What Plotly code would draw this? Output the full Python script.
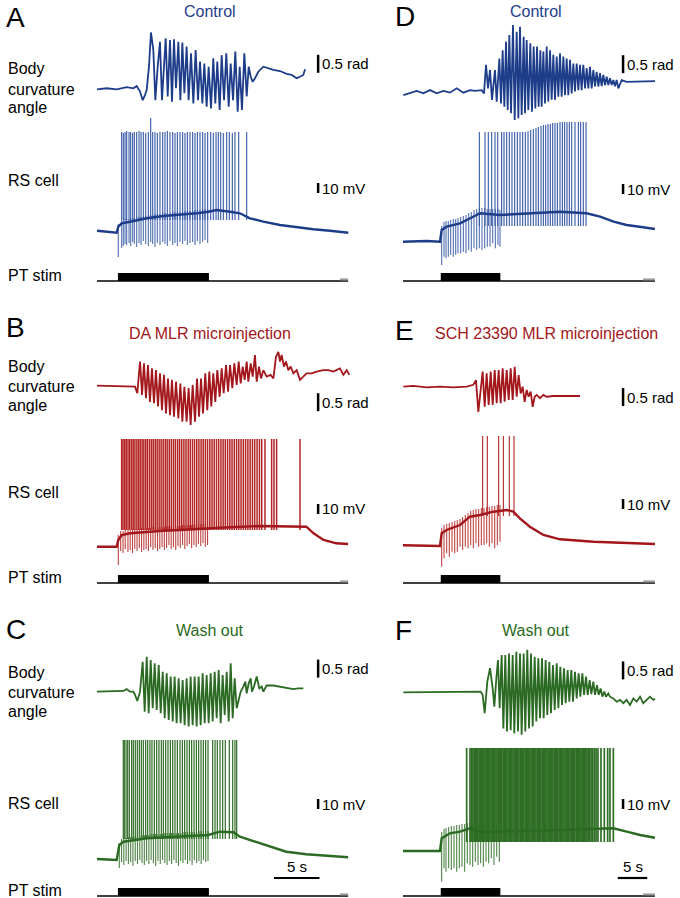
import plotly.graph_objects as go

# ================= DATA =================
# time in s from start of sweep, body curvature in rad, RS membrane potential in mV (relative to rest)

A_body = [(0.0,-0.01),(1.06,0.02),(2.16,-0.01),(3.26,0.05),(3.99,0.02),(4.36,0.08),(4.73,-0.07),(5.02,-0.31),(5.27,-0.17),(5.46,-0.03),
          (5.71,0.62),(5.93,1.57),(6.19,1.08),(6.41,-0.31),(6.67,0.62),(6.92,1.31),(7.14,-0.31),(7.33,0.62),(7.55,1.41),(7.77,-0.21),
          (8.02,1.36),(8.24,-0.35),(8.46,1.38),(8.68,0.02),(8.94,1.31),(9.16,-0.31),(9.38,1.29),(9.60,-0.12),(9.85,1.18),(10.07,-0.31),
          (10.33,0.99),(10.59,-0.40),(10.84,1.08),(11.10,-0.31),(11.32,0.76),(11.58,-0.40),(11.79,0.71),(12.05,-0.49),(12.27,0.62),(12.53,-0.54),
          (12.78,0.85),(13.00,-0.40),(13.22,0.76),(13.48,-0.58),(13.70,0.94),(13.96,-0.31),(14.21,0.99),(14.47,-0.49),(14.69,0.71),(14.95,-0.31),
          (15.20,1.04),(15.46,-0.63),(15.68,0.62),(15.93,-0.58),(16.19,0.99),(16.45,-0.21),(16.67,0.62),(16.89,0.34),(17.11,0.20),(17.36,0.30),
          (17.73,0.48),(18.28,0.62),(18.83,0.57),(19.38,0.53),(20.11,0.50),(20.84,0.42),(21.39,0.39),(21.94,0.30),(22.31,0.34),(22.67,0.39),(22.86,0.55)]

B_body = [(0.0,0.01),(4.18,-0.02),(4.43,-0.20),(4.73,0.68),(4.95,-0.25),(5.16,0.63),(5.38,-0.34),(5.60,0.58),(5.82,-0.44),(6.04,0.49),
          (6.26,-0.48),(6.48,0.44),(6.70,-0.57),(6.92,0.35),(7.14,-0.67),(7.36,0.31),(7.58,-0.76),(7.80,0.21),(8.02,-0.81),(8.24,0.17),
          (8.46,-0.85),(8.68,0.12),(8.94,-0.90),(9.16,0.07),(9.38,-0.99),(9.60,-0.02),(9.85,-0.99),(10.07,-0.06),(10.29,-1.08),(10.51,0.03),
          (10.77,-0.99),(10.99,0.21),(11.21,-0.85),(11.43,0.21),(11.65,-0.76),(11.90,0.35),(12.12,-0.67),(12.34,0.40),(12.56,-0.57),(12.78,0.35),
          (13.00,-0.44),(13.22,0.44),(13.48,-0.30),(13.70,0.49),(13.92,-0.20),(14.18,0.58),(14.40,-0.16),(14.62,0.58),(14.87,-0.06),(15.09,0.63),
          (15.35,0.03),(15.57,0.68),(15.79,0.07),(16.01,0.54),(16.23,0.17),(16.45,0.68),(16.63,0.12),(16.89,0.63),(17.11,0.26),(17.36,0.86),
          (17.55,0.12),(17.80,0.54),(18.02,0.21),(18.28,0.44),(18.64,0.26),(19.08,0.31),(19.38,0.21),(19.67,0.81),(19.93,0.95),(20.11,0.68),
          (20.29,0.86),(20.55,0.54),(20.77,0.68),(21.03,0.44),(21.28,0.54),(21.58,0.35),(21.94,0.44),(22.31,0.17),(22.67,0.26),(23.04,0.35),
          (23.59,0.35),(24.14,0.40),(24.87,0.44),(25.42,0.44),(25.97,0.40),(26.70,0.49),(27.07,0.31),(27.44,0.44),(27.73,0.31)]

C_body = [(0.0,0.01),(1.79,0.01),(2.89,0.03),(3.26,0.08),(3.63,0.01),(3.99,0.01),(4.18,-0.08),(4.43,-0.25),(4.73,0.01),(5.02,0.84),
          (5.24,-0.55),(5.46,0.98),(5.68,-0.59),(5.90,0.89),(6.12,-0.45),(6.34,0.80),(6.56,-0.50),(6.78,0.75),(7.00,-0.59),(7.22,0.56),
          (7.44,-0.73),(7.66,0.52),(7.88,-0.78),(8.10,0.43),(8.32,-0.82),(8.53,0.43),(8.75,-0.87),(8.97,0.38),(9.19,-0.87),(9.41,0.33),
          (9.63,-0.92),(9.85,0.38),(10.07,-0.96),(10.29,0.43),(10.51,-0.92),(10.73,0.43),(10.95,-0.96),(11.17,0.43),(11.39,-0.92),(11.61,0.52),
          (11.83,-0.87),(12.05,0.47),(12.27,-0.87),(12.49,0.52),(12.71,-0.82),(12.93,0.56),(13.15,-0.73),(13.37,0.61),(13.59,-0.87),(13.81,0.47),
          (14.03,-0.64),(14.25,0.56),(14.47,-0.82),(14.69,0.80),(14.91,-0.73),(15.13,0.38),(15.35,-0.45),(15.57,-0.22),(15.79,0.01),(16.08,0.15),
          (16.30,0.29),(16.45,-0.04),(16.67,0.24),(16.89,0.38),(17.03,0.01),(17.25,0.15),(17.55,0.43),(17.84,0.10),(18.10,0.15),(18.28,0.01),
          (18.64,0.18),(19.38,0.18),(20.11,0.15),(20.84,0.12),(21.58,0.08),(22.12,0.10),(22.67,0.10)]

D_body = [(0.06,-0.06),(1.19,-0.01),(2.32,0.06),(3.45,-0.01),(4.58,0.08),(5.71,-0.01),(6.84,0.06),(7.97,0.01),(9.10,0.13),(10.23,0.01),
          (11.36,0.08),(12.20,0.06),(13.33,0.08),(13.73,-0.01),(14.07,0.78),(14.41,0.13),(14.75,0.64),(15.08,-0.19),(15.59,0.64),(15.88,-0.24),
          (16.33,0.96),(16.61,-0.29),(16.89,1.19),(17.18,-0.38),(17.46,1.43),(17.74,-0.47),(18.02,1.61),(18.31,-0.56),(18.64,1.89),(18.93,-0.75),
          (19.27,1.70),(19.55,-0.70),(19.83,1.84),(20.11,-0.61),(20.45,1.56),(20.68,-0.56),(20.96,1.47),(21.24,-0.47),(21.58,1.38),(21.86,-0.52),
          (22.15,1.29),(22.43,-0.43),(22.71,1.29),(22.99,-0.38),(23.28,1.19),(23.50,-0.38),(23.79,1.15),(24.07,-0.29),(24.35,1.29),(24.63,-0.24),
          (24.92,1.19),(25.20,-0.19),(25.48,1.06),(25.76,-0.19),(26.05,1.01),(26.33,-0.10),(26.61,1.10),(26.89,-0.10),(27.18,1.01),(27.46,-0.06),
          (27.74,0.96),(28.02,-0.06),(28.31,0.92),(28.59,-0.01),(28.87,0.82),(29.15,0.04),(29.44,0.82),(29.72,0.08),(30.00,0.78),(30.28,0.08),
          (30.56,0.78),(30.85,0.13),(31.13,0.69),(31.41,0.13),(31.69,0.73),(31.98,0.13),(32.26,0.64),(32.54,0.18),(32.82,0.59),(33.11,0.18),
          (33.39,0.55),(33.67,0.19),(33.95,0.50),(34.24,0.22),(34.52,0.45),(34.80,0.22),(35.08,0.41),(35.37,0.22),(35.65,0.36),(35.93,0.19),
          (36.21,0.36),(36.50,0.13),(37.06,0.36),(37.91,0.31),(39.04,0.31),(40.73,0.31),(42.71,0.33)]

E_body = [(0.06,0.01),(1.75,0.03),(4.01,-0.01),(6.27,0.01),(8.53,-0.01),(10.79,0.01),(11.92,0.06),(12.37,0.19),(12.77,-0.69),(13.16,-0.08),
          (13.50,0.43),(13.84,-0.55),(14.18,0.38),(14.52,-0.50),(14.86,0.43),(15.20,-0.50),(15.54,0.47),(15.88,-0.45),(16.21,0.47),(16.55,-0.45),
          (16.89,0.52),(17.23,-0.41),(17.57,0.47),(17.91,-0.36),(18.25,0.52),(18.59,-0.36),(18.93,0.56),(19.27,-0.27),(19.60,0.33),(19.94,-0.18),
          (20.28,0.01),(20.62,-0.41),(20.96,-0.08),(21.30,-0.27),(21.64,-0.13),(21.98,-0.55),(22.32,-0.27),(22.66,-0.22),(23.22,-0.31),(23.79,-0.22),
          (24.35,-0.27),(25.48,-0.25),(26.61,-0.25),(27.74,-0.23),(28.87,-0.25),(30.00,-0.25)]

F_body = [(0.06,-0.01),(4.01,-0.01),(6.84,0.01),(9.66,-0.01),(11.92,0.01),(13.16,0.01),(13.50,-0.08),(13.84,-0.59),(14.29,0.29),(14.75,0.66),
          (15.20,0.10),(15.48,-0.41),(15.82,0.38),(16.10,0.89),(16.38,-0.45),(16.72,1.03),(17.01,-1.01),(17.34,1.03),(17.63,-1.10),(17.97,1.07),
          (18.25,-1.06),(18.59,1.03),(18.87,-1.15),(19.21,1.12),(19.49,-1.10),(19.83,1.07),(20.11,-1.19),(20.45,1.07),(20.73,-1.10),(21.07,1.17),
          (21.36,-1.01),(21.69,1.07),(21.98,-0.96),(22.32,0.98),(22.60,-0.82),(22.94,0.94),(23.22,-0.73),(23.56,0.94),(23.84,-0.73),(24.18,0.89),
          (24.46,-0.64),(24.80,0.84),(25.08,-0.59),(25.42,0.75),(25.71,-0.50),(26.05,0.80),(26.33,-0.45),(26.67,0.70),(26.95,-0.36),(27.29,0.66),
          (27.57,-0.31),(27.91,0.61),(28.19,-0.27),(28.53,0.61),(28.81,-0.27),(29.15,0.56),(29.44,-0.18),(29.77,0.52),(30.06,-0.13),(30.40,0.52),
          (30.68,-0.08),(31.02,0.43),(31.30,-0.08),(31.64,0.33),(31.92,-0.06),(32.26,0.29),(32.54,-0.08),(32.88,0.19),(33.16,-0.08),(33.50,0.10),
          (33.79,-0.13),(34.12,0.01),(34.41,-0.13),(34.80,-0.04),(35.08,-0.13),(35.65,-0.18),(36.21,-0.27),(36.78,-0.22),(37.34,-0.31),(37.91,-0.22),
          (38.47,-0.36),(39.04,-0.18),(39.60,-0.27),(40.17,-0.13),(40.73,-0.31),(41.30,-0.22),(41.86,-0.13),(42.43,-0.22),(42.71,-0.19)]

# RS cell: slow membrane potential envelope
A_env = [(0.0,1.3),(1.06,0.3),(2.16,-0.7),(2.34,5.3),(2.71,8.7),(3.63,10.3),(5.46,13.7),(7.29,16.0),(9.12,17.0),(10.95,18.7),(12.23,20.3),
         (13.15,22.0),(14.62,20.3),(15.71,18.7),(16.81,13.7),(18.28,10.3),(20.11,7.0),(21.94,4.7),(23.77,2.7),(25.60,1.3),(27.62,-0.7)]
B_env = [(0.0,0.3),(2.16,0.3),(2.34,7),(2.71,12),(3.63,13.7),(5.46,15.3),(7.29,16.3),(9.12,17),(12.05,18.7),(14.6,19.7),(17.9,21),
         (20.1,21),(22.3,21),(23.0,20.3),(23.8,13.7),(24.9,7),(26.3,3.7),(27.6,3)]
C_env = [(0.0,0),(2.16,-1),(2.45,14),(2.9,17.3),(5.46,20.7),(9.12,22.3),(12.23,24),(13.5,27.3),(15.0,26.7),(15.7,22.3),(17.2,18),
         (18.6,14),(20.8,7.3),(23.0,4.7),(25.2,3),(27.6,1.7)]
D_env = [(0.0,0.3),(3.95,1),(6.27,0.3),(6.55,12),(7.4,15.3),(9.66,18.7),(11.9,25.3),(13.05,28.7),(16.4,27),(21.0,28.7),(26.6,30.3),
         (31.1,28.7),(33.4,25.3),(35.7,20.3),(37.9,17),(40.7,14.7),(42.7,13)]
E_env = [(0.0,0.7),(3.95,0),(6.27,0),(6.55,12.7),(7.4,16),(9.66,21),(11.36,29.3),(13.05,31),(15.3,34.3),(17.6,36),(18.7,34.3),
         (19.8,27.7),(21.5,19.3),(23.8,11),(26.6,6.7),(32.3,4.3),(37.9,2.7),(42.7,2)]
F_env = [(0.0,0),(3.95,0.3),(6.27,0),(6.55,12.7),(7.97,17.7),(9.66,19.3),(11.36,22.7),(13.05,19.3),(16.44,19.3),(21.0,20),(26.6,21),
         (32.26,22),(35.65,22.7),(37.91,19.3),(40.17,16),(42.7,13.3)]

# RS cell action potentials: (time, peak)  or times with a single peak value
A_spikes = [(2.71,100),(2.89,99),(3.08,100),(3.26,101),(3.52,100),(3.70,100),(3.92,99),(4.10,100),(4.36,100),(4.62,101),
            (4.84,100),(5.09,100),(5.35,99),(5.64,100),(5.90,114),(6.12,100),(6.37,100),(6.63,99),(6.92,100),(7.22,100),
            (7.47,100),(7.73,101),(8.02,100),(8.32,100),(8.57,99),(8.83,100),(9.12,100),(9.41,100),(9.67,99),(9.93,100),
            (10.22,100),(10.51,100),(10.77,99),(11.03,100),(11.32,100),(11.61,100),(11.87,99),(12.16,100),(12.49,100),(12.78,99),
            (13.08,100),(13.33,100),(13.59,100),(13.88,99),(14.25,100),(14.54,100),(14.87,99),(15.16,100),(15.57,100),(16.45,100)]
B_spike_t = [2.71,2.86,3.05,3.22,3.41,3.60,3.80,3.98,4.17,4.38,4.57,4.75,4.96,5.15,5.36,5.55,5.77,5.98,6.18,6.40,
             6.61,6.83,7.05,7.27,7.50,7.71,7.94,8.17,8.40,8.62,8.86,9.08,9.31,9.55,9.78,10.02,10.25,10.49,10.72,10.96,
             11.20,11.44,11.67,11.91,12.15,12.40,12.64,12.88,13.13,13.37,13.62,13.86,14.10,14.35,14.60,14.84,15.09,15.34,15.58,15.83,
             16.08,16.33,16.58,16.83,17.08,17.33,17.59,17.85,18.10,18.46,19.19,19.45,19.74,22.31]
B_spike_peak = 108
C_spike_t = [2.89,3.00,3.19,3.37,3.55,3.81,3.99,4.21,4.43,4.65,4.87,5.09,5.35,5.57,5.82,6.04,6.30,6.56,6.81,7.07,
             7.29,7.55,7.80,8.06,8.32,8.57,8.83,9.12,9.38,9.63,9.89,10.15,10.40,10.66,10.92,11.17,11.43,11.68,11.94,12.20,
             12.71,12.97,13.22,13.52,13.81,14.10,14.54,14.91,15.16,15.35]
C_spike_peak = 119
D_spikes = [(12.94,110),(13.90,110),(14.46,110),(15.03,110),(15.59,110),(16.05,110),(16.72,110),(17.12,110),(17.57,110),(18.02,110),
            (18.47,110),(18.93,110),(19.38,110),(19.83,110),(20.28,110),(20.73,110),(21.19,111),(21.64,112),(22.09,113),(22.54,114),
            (22.94,115),(23.39,116),(23.79,117),(24.18,117),(24.58,118),(24.97,118),(25.37,119),(25.76,119),(26.16,119),(26.61,120),
            (27.01,120),(27.40,120),(27.80,120),(28.19,120),(28.59,120),(29.15,120),(29.72,120),(30.11,120),(30.56,120),(31.02,120)]
E_spike_t = [13.50,14.29,16.21,17.01,18.02,18.81]
E_spike_peak = 110
F_spike_t = [10.79,11.36,11.62,11.85,12.07,12.26,12.49,12.67,12.90,13.08,13.30,13.49,13.71,13.90,14.12,14.30,14.52,14.71,14.93,15.11,
             15.34,15.53,15.75,15.94,16.16,16.35,16.58,16.76,16.99,17.17,17.40,17.59,17.81,18.00,18.22,18.41,18.64,18.82,19.05,19.23,
             19.46,19.65,19.87,20.06,20.28,20.47,20.70,20.88,21.11,21.29,21.52,21.71,21.93,22.12,22.34,22.53,22.76,22.94,23.17,23.35,
             23.58,23.77,23.99,24.18,24.40,24.59,24.82,25.00,25.23,25.41,25.64,25.83,26.05,26.24,26.46,26.65,26.88,27.06,27.29,27.47,
             27.70,27.89,28.11,28.30,28.52,28.71,28.94,29.12,29.35,29.53,29.76,29.95,30.17,30.36,30.58,30.77,31.00,31.18,31.41,31.62,
             31.88,32.15,32.44,32.72,33.04,33.56,34.12,34.69,35.08,35.65]
F_spike_peak = 103
# lower end of the spike deflections (mV)
spike_base = {"A": 12, "B": 17, "C": 20, "D": 16, "E": 30, "F": 9}

# stimulation-locked deflections: (time, low mV, high mV)
A_dips = [(2.34,-25,8),(2.71,-16,12),(2.89,-14,12),(3.08,-12,13),(3.26,-13,13),(3.52,-11,13),(3.70,-14,14),(3.92,-10,14),(4.10,-12,14),
          (4.36,-15,15),(4.62,-11,15),(4.84,-13,15),(5.09,-9,16),(5.35,-12,16),(5.64,-14,17),(5.90,-10,17),(6.12,-12,17),(6.37,-15,18),
          (6.63,-11,18),(6.92,-13,18),(7.22,-10,19),(7.47,-12,19),(7.73,-14,19),(8.02,-9,19),(8.32,-13,20),(8.57,-11,20),(8.83,-14,20),
          (9.12,-10,20),(9.41,-12,20),(9.67,-9,21),(9.93,-13,21),(10.22,-11,21),(10.51,-10,21),(10.77,-13,22),(11.03,-9,22),(11.32,-12,22),
          (11.61,-10,23),(11.87,-8,23),(12.16,-11,23)]
B_dips = [(2.34,-18,12),(2.60,-4,16),(2.86,-6,16),(3.10,-2,17),(3.40,-5,17),(3.65,-3,17),(3.90,-6,18),(4.15,-2,18),(4.40,-4,18),(4.65,-1,18),
          (4.90,-5,19),(5.15,-3,19),(5.40,-2,19),(5.65,-4,19),(5.90,0,19),(6.15,-3,20),(6.40,-1,20),(6.65,-4,20),(6.90,-2,20),(7.15,0,20),
          (7.40,-3,20),(7.65,-1,21),(7.90,2,21),(8.15,-2,21),(8.40,0,21),(8.65,-3,21),(8.90,1,21),(9.15,-1,21),(9.40,2,22),(9.65,-2,22),
          (9.90,1,22),(10.15,3,22),(10.40,-1,22),(10.65,2,22),(10.90,0,23),(11.15,3,23),(11.40,1,23),(11.65,4,23),(11.90,0,23),(12.15,2,23)]
C_dips = [(2.45,-9,16),(2.70,-3,20),(2.95,-6,21),(3.20,-2,21),(3.45,-5,22),(3.70,-3,22),(3.95,-7,22),(4.20,-2,23),(4.45,-5,23),(4.70,-1,23),
          (4.95,-4,24),(5.20,-6,24),(5.45,-2,24),(5.70,-5,24),(5.95,-1,25),(6.20,-4,25),(6.45,-7,25),(6.70,-2,25),(6.95,-5,25),(7.20,-1,25),
          (7.45,-4,26),(7.70,-6,26),(7.95,-2,26),(8.20,-5,26),(8.45,-1,26),(8.70,-4,26),(8.95,-7,26),(9.20,-2,26),(9.45,-4,27),(9.70,-1,27),
          (9.95,-5,27),(10.20,-2,27),(10.45,-6,27),(10.70,-1,27),(10.95,-4,27),(11.20,-2,28),(11.45,-5,28),(11.70,-1,28),(11.95,-3,28),(12.20,-2,28)]
D_dips = [(6.55,-23,16),(6.95,-14.7,20),(7.29,-16.3,21),(7.68,-14.7,21),(8.08,-13,22),(8.53,-14.7,23),(8.93,-13,23),(9.32,-11.3,24),
          (9.77,-11.3,25),(10.23,-9.7,26),(10.68,-11.3,27),(11.13,-8,29),(11.58,-9.7,30),(12.03,-6.3,32),(12.49,-8,33),(12.94,-6.3,34),
          (13.39,-8,34),(13.84,-6.3,34),(14.29,-4.7,33),(14.75,-4.7,33),(15.20,-1.3,33),(15.65,-6.3,33),(16.10,-3,33),(16.44,-4.7,32)]
E_dips = [(6.55,-20.7,18),(6.95,-12.3,21),(7.40,-7.3,22),(7.85,-10.7,23),(8.31,-5.7,24),(8.76,-7.3,25),(9.21,-5.7,26),(9.66,-0.7,27),
          (10.11,-4,29),(10.56,-0.7,31),(11.02,-2.3,33),(11.47,1,35),(11.92,-2.3,36),(12.37,2.7,37),(12.82,-0.7,37),(13.28,1,38),
          (13.73,1,38),(14.18,2.7,39),(14.63,-0.7,39),(15.08,2.7,40),(15.54,-2.3,40),(15.99,1,41),(16.44,4.3,41)]
F_dips = [(6.55,-30.7,19),(6.95,-17.3,22),(7.29,-20.7,23),(7.74,-17.3,24),(8.19,-19,25),(8.64,-17.3,25),(9.10,-20.7,26),(9.55,-17.3,26),
          (10.00,-15.7,27),(10.45,-20.7,27),(10.90,-12.3,28),(11.36,-14,28),(11.81,-15.7,29),(12.26,-10.7,28),(12.71,-14,27),(13.16,-12.3,26),
          (13.62,-15.7,26),(14.07,-10.7,26),(14.52,-12.3,26),(14.97,-7.3,26),(15.42,-14,26),(15.88,-5.7,26),(16.33,-10.7,26)]

# PT stimulation (s)
stim_left = (2.3, 12.3)
stim_right = (6.4, 16.5)
sweep_end = {0: 27.6, 1: 42.7}
stim_mark = {0: (26.7, 27.6), 1: (40.7, 42.7)}

titles = {"A": "Control", "B": "DA MLR microinjection", "C": "Wash out",
          "D": "Control", "E": "SCH 23390 MLR microinjection", "F": "Wash out"}

# scale bars
rad_bar = 0.5      # rad
mv_bar = 10        # mV
time_bar = 5       # s

# ================= STYLE / LAYOUT =================
W, H = 680, 898
FONT = "Liberation Sans, Arial, Helvetica, sans-serif"
COL = {"blue": ("#1d3d8a", "#3558a6"), "red": ("#a3161b", "#b42424"), "green": ("#2b6a22", "#2f6e25")}
PX_PER_S = {0: 9.1, 1: 5.9}
X0_PX = {0: 97, 1: 403}
XW_PX = 253
PPU_BODY, PPU_RS, PPU_STIM = 36.0, 1.0, 8.0

panels = [
    dict(k="A", col=0, c="blue", body=A_body, env=A_env, spikes=A_spikes, dips=A_dips, stim=stim_left, sw=1.1,
         bz=89, rz=232, sz=281, rbar=0.45, mbar=39, letter_y=18, title_y=11, tx=210, rs_lab=181),
    dict(k="B", col=0, c="red", body=B_body, env=B_env, spikes=[(t, B_spike_peak) for t in B_spike_t], dips=B_dips, stim=stim_left, sw=1.5,
         bz=386, rz=547, sz=583, rbar=-0.7, mbar=33, letter_y=328, title_y=333, tx=210, rs_lab=492),
    dict(k="C", col=0, c="green", body=C_body, env=C_env, spikes=[(t, C_spike_peak) for t in C_spike_t], dips=C_dips, stim=stim_left, sw=1.2,
         bz=692, rz=859, sz=896, rbar=0.4, mbar=50, letter_y=629, title_y=630, tx=210, tbar=(19.45, -19), rs_lab=803),
    dict(k="D", col=1, c="blue", body=D_body, env=D_env, spikes=D_spikes, dips=D_dips, stim=stim_right, sw=1.1,
         bz=93, rz=242, sz=281, rbar=0.55, mbar=48, letter_y=17, title_y=11, tx=536),
    dict(k="E", col=1, c="red", body=E_body, env=E_env, spikes=[(t, E_spike_peak) for t in E_spike_t], dips=E_dips, stim=stim_right, sw=1.1,
         bz=387, rz=546, sz=583, rbar=-0.53, mbar=37, letter_y=330, title_y=333, tx=546),
    dict(k="F", col=1, c="green", body=F_body, env=F_env, spikes=[(t, F_spike_peak) for t in F_spike_t], dips=F_dips, stim=stim_right, sw=1.7,
         bz=692, rz=851, sz=896, rbar=0.35, mbar=42, letter_y=630, title_y=630, tx=536, tbar=(36.4, -27)),
]

fig = go.Figure()
layout = {}
shapes = []
annotations = []
axis_n = [0]


def new_axes(col, top_px, bot_px, zero_px, ppu):
    top_px = max(0, top_px)
    bot_px = min(H, bot_px)
    axis_n[0] += 1
    n = axis_n[0]
    sx = "" if n == 1 else str(n)
    x0 = X0_PX[col]
    layout["xaxis" + sx] = dict(domain=[x0 / W, (x0 + XW_PX) / W], range=[0, XW_PX / PX_PER_S[col]],
                                visible=False, fixedrange=True, anchor="y" + sx)
    layout["yaxis" + sx] = dict(domain=[max(0.0, 1 - bot_px / H), min(1.0, 1 - top_px / H)],
                                range=[(zero_px - bot_px) / ppu, (zero_px - top_px) / ppu],
                                visible=False, fixedrange=True, anchor="x" + sx)
    return "x" + sx, "y" + sx


def P(xp, yp):
    return xp / W, 1 - yp / H


def text(xp, yp, s, size=16, color="black", xanchor="left"):
    x, y = P(xp, yp)
    annotations.append(dict(x=x, y=y, xref="paper", yref="paper", text=s, showarrow=False,
                            xanchor=xanchor, yanchor="middle", font=dict(family=FONT, size=size, color=color)))


for p in panels:
    col = p["col"]
    dark, light = COL[p["c"]]
    bar_t = 24.3 if col == 0 else 37.3

    # ---- body curvature
    xa, ya = new_axes(col, p["bz"] - 80, p["bz"] + 50, p["bz"], PPU_BODY)
    fig.add_trace(go.Scatter(x=[q[0] for q in p["body"]], y=[q[1] for q in p["body"]], xaxis=xa, yaxis=ya,
                             mode="lines", line=dict(color=dark, width=1.8), hoverinfo="skip"))
    shapes.append(dict(type="line", xref=xa, yref=ya, x0=bar_t, x1=bar_t, y0=p["rbar"], y1=p["rbar"] + rad_bar,
                       line=dict(color="black", width=2.5)))
    annotations.append(dict(x=bar_t, y=p["rbar"] + rad_bar / 2, xref=xa, yref=ya, text="0.5 rad", showarrow=False,
                            xanchor="left", yanchor="middle", xshift=2, font=dict(family=FONT, size=15, color="black")))

    # ---- RS cell
    xa, ya = new_axes(col, p["rz"] - 130, p["rz"] + 40, p["rz"], PPU_RS)
    dx, dy = [], []
    for t, lo, hi in p["dips"]:
        dx += [t, t, None]
        dy += [lo, hi, None]
    fig.add_trace(go.Scatter(x=dx, y=dy, xaxis=xa, yaxis=ya, mode="lines",
                             line=dict(color=light, width=1.1), opacity=0.85, hoverinfo="skip"))
    sx_, sy_ = [], []
    base = spike_base[p["k"]]
    for t, pk in p["spikes"]:
        sx_ += [t, t, None]
        sy_ += [base, pk, None]
    fig.add_trace(go.Scatter(x=sx_, y=sy_, xaxis=xa, yaxis=ya, mode="lines",
                             line=dict(color=light, width=p["sw"]), hoverinfo="skip"))
    fig.add_trace(go.Scatter(x=[q[0] for q in p["env"]], y=[q[1] for q in p["env"]], xaxis=xa, yaxis=ya,
                             mode="lines", line=dict(color=dark, width=2.4), hoverinfo="skip"))
    shapes.append(dict(type="line", xref=xa, yref=ya, x0=bar_t, x1=bar_t, y0=p["mbar"], y1=p["mbar"] + mv_bar,
                       line=dict(color="black", width=2.5)))
    annotations.append(dict(x=bar_t, y=p["mbar"] + mv_bar / 2, xref=xa, yref=ya, text="10 mV", showarrow=False,
                            xanchor="left", yanchor="middle", xshift=2, font=dict(family=FONT, size=15, color="black")))
    if "tbar" in p:
        t0, yb = p["tbar"]
        shapes.append(dict(type="line", xref=xa, yref=ya, x0=t0, x1=t0 + time_bar, y0=yb, y1=yb,
                           line=dict(color="black", width=2.2)))
        annotations.append(dict(x=t0 + time_bar / 2, y=yb, xref=xa, yref=ya, text="5 s", showarrow=False,
                                xanchor="center", yanchor="bottom", yshift=1,
                                font=dict(family=FONT, size=15, color="black")))

    # ---- PT stim
    xa, ya = new_axes(col, p["sz"] - 14, p["sz"] + 2, p["sz"], PPU_STIM)
    fig.add_trace(go.Scatter(x=[0, sweep_end[col]], y=[0, 0], xaxis=xa, yaxis=ya, mode="lines",
                             line=dict(color="black", width=1.5), hoverinfo="skip"))
    fig.add_trace(go.Scatter(x=list(stim_mark[col]), y=[0.2, 0.2], xaxis=xa, yaxis=ya, mode="lines",
                             line=dict(color="#9a9a9a", width=2), hoverinfo="skip"))
    shapes.append(dict(type="rect", xref=xa, yref=ya, x0=p["stim"][0], x1=p["stim"][1], y0=0, y1=1,
                       fillcolor="black", line=dict(width=0)))

    # ---- texts
    text(4 if col == 0 else 393, p["letter_y"], p["k"], size=28)
    text(p["tx"], p["title_y"], titles[p["k"]], size=16, color=dark, xanchor="center")
    if col == 0:
        bz = p["bz"]
        text(6, bz - 20, "Body")
        text(6, bz, "curvature")
        text(6, bz + 19, "angle")
        text(6, p["rs_lab"], "RS cell")
        text(6, p["sz"] - 6, "PT stim")

layout.update(width=W, height=H, margin=dict(l=0, r=0, t=0, b=0), paper_bgcolor="white",
              plot_bgcolor="rgba(0,0,0,0)", showlegend=False, shapes=shapes, annotations=annotations)
fig.update_layout(**layout)
fig.write_html("out.html", config={"displayModeBar": False, "staticPlot": True},
               post_script="document.body.style.margin='0px';document.body.style.overflow='hidden';")
